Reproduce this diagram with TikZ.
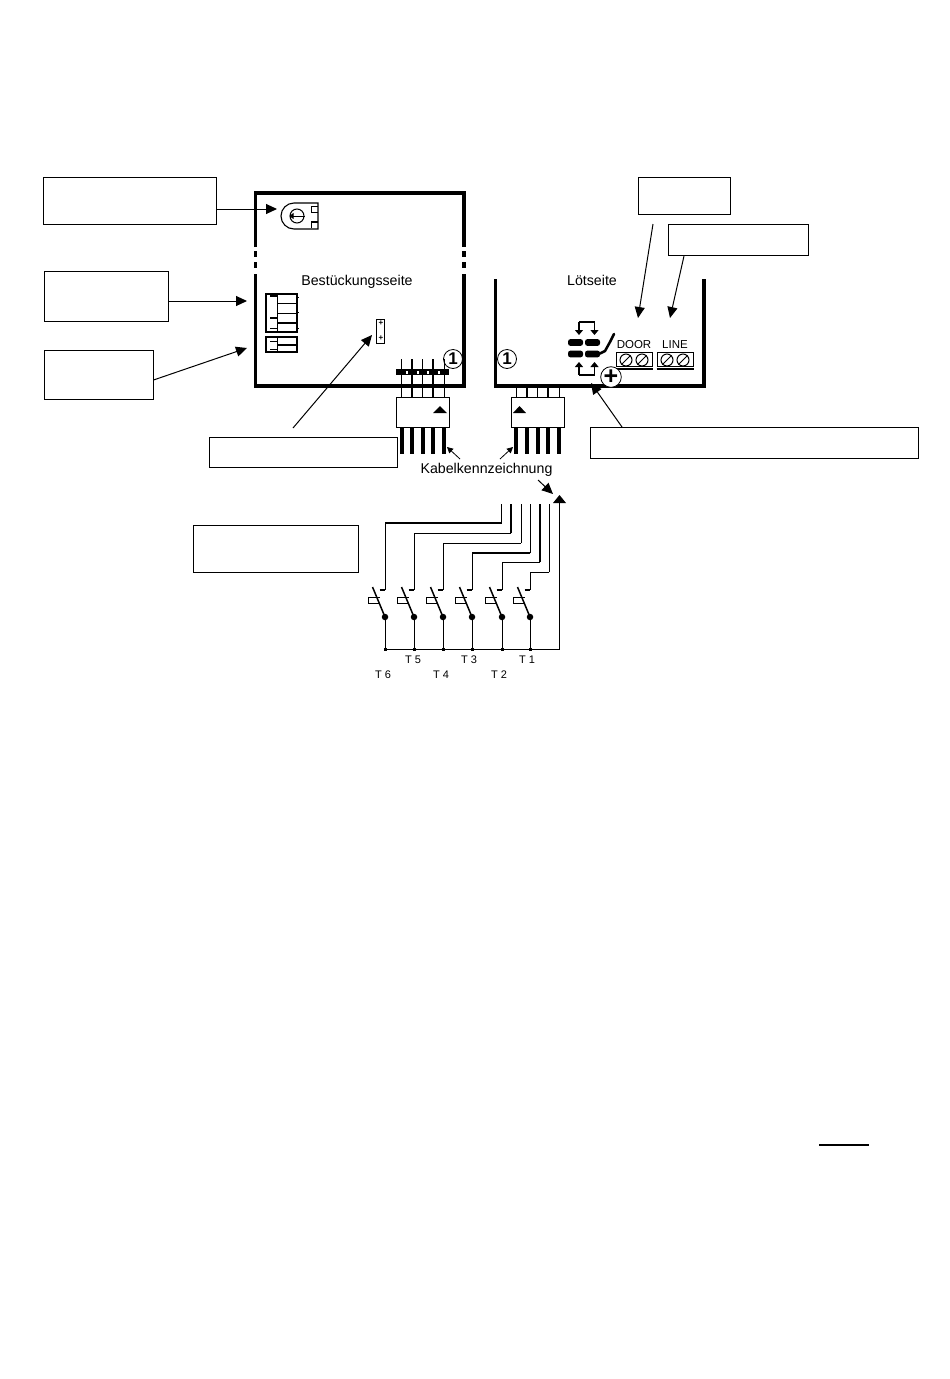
\documentclass[tikz,border=0pt]{standalone}
\usepackage{fontspec}
\setmainfont{Liberation Sans}
\usetikzlibrary{arrows.meta,
                calc}

\begin{document}
\begin{tikzpicture}[x=1pt,y=-1pt,
                    >={Triangle[length=11pt,width=10pt]}
                    ]
                % define styles
\tikzset{legendbox/.style={rectangle,
                       draw=black,
                       line width=1pt,
                       inner sep=0,
                       },
         board/.style={line width=3.8pt},
         pointer/.style={->,line width=1pt},
         tiny pointer/.style={-{Triangle[length=6pt,width=6pt]},line width=0.8pt},
         circled/.style={circle,
                       draw=black,
                       line width=0.8pt,
                       inner sep=0,
                       minimum size=19pt,
                       font=\bfseries\fontsize{17}{17}\selectfont,
                       },
         screw/.style={circle,
                       draw=black,
                       line width=1pt,
                       inner sep=0,
                       minimum size=12pt,
                       },
         contact/.style={circle,
                       fill=black,
                       inner sep=0,
                       minimum size=6.5pt,
                       },
         tap/.style={rectangle,
                       fill=black,
                       inner sep=0,
                       minimum size=3pt,
                       },
         title/.style={font=\fontsize{14.2}{15}\selectfont,inner sep=0},
         keyname/.style={font=\fontsize{11}{12}\selectfont,inner sep=0},
         thin wire/.style={line width=1pt},
         thick wire/.style={line width=2.1pt},
         lead/.style={line width=4pt},
}
\useasboundingbox (0,0) rectangle (950,1379);

% legend boxes
\node[legendbox,minimum width=173pt,minimum height=47pt] (potbox)    at (129.5,200.5) {};
\node[legendbox,minimum width=124pt,minimum height=50pt] (blockbox)  at (106,296)     {};
\node[legendbox,minimum width=109pt,minimum height=49pt] (smallbox)  at (98.5,374.5)  {};
\node[legendbox,minimum width=188pt,minimum height=30pt] (jumperbox) at (303,452)     {};
\node[legendbox,minimum width=165pt,minimum height=47pt] (keybox)    at (275.5,548.5) {};
\node[legendbox,minimum width=92pt,minimum height=37pt]  (doorbox)   at (684,195.5)   {};
\node[legendbox,minimum width=140pt,minimum height=31pt] (linebox)   at (738,239.5)   {};
\node[legendbox,minimum width=328pt,minimum height=31pt] (plusbox)   at (754,442.5)   {};

% boards
\draw[board] (255.5,247) -- (255.5,192.7) -- (464,192.7) -- (464,247);
\draw[board] (255.5,274) -- (255.5,385.7) -- (464,385.7) -- (464,274);
\foreach \x in {255.5,464}
    \foreach \y in {254,265}
        \fill (\x-1.9,\y-3) rectangle (\x+1.9,\y+3);
\draw[board] (495.5,279) -- (495.5,385.7) -- (704,385.7) -- (704,279);

\node[title] (side1) at (357,281.5) {Bestückungsseite};
\node[title] (side2) at (592,280) {Lötseite};

% trimmer
\draw[line width=1.1pt] (318,203) -- (294,203) arc[start angle=270,end angle=90,radius=13] -- (318,229) -- cycle;
\draw[line width=1pt] (318,206) -- (311,206) -- (311,212) -- (318,212);
\draw[line width=2pt] (318,221.5) -- (311,221.5);
\draw[line width=1pt] (311,221.5) -- (311,228);
\node[circle,draw,line width=1pt,inner sep=0,minimum size=14pt] (trim) at (297,216) {};
\draw[-{Triangle[length=4pt,width=6pt]},line width=1pt] (trim.east) -- (trim.west);

% terminal blocks
\draw[line width=1.4pt] (266,294) rectangle (297,332);
\draw[line width=1pt] (277,294) -- (277,332);
\foreach \y in {303,313}
    \draw[line width=1pt] (277,\y) -- (297,\y);
\draw[line width=2pt] (277,323) -- (297,323);
\foreach \y in {296,318}
    \draw[line width=1.8pt] (270,\y) -- (277,\y);
\draw[line width=1pt] (270,328) -- (277,328);
\foreach \y in {297,312,328}
    \draw[line width=1pt] (297,\y) -- (299,\y);
\draw[line width=1.4pt] (266,337) rectangle (297,352);
\draw[line width=1pt] (277,337) -- (277,352);
\draw[line width=2pt] (277,344.5) -- (297,344.5);
\foreach \y in {341,349.5}
    \draw[line width=1pt] (270,\y) -- (277,\y);

% jumper
\draw[line width=1pt] (376,319) rectangle (384,343);
\node[font=\bfseries\fontsize{8}{8}\selectfont,inner sep=0] (jumper1) at (381,323) {+};
\node[font=\bfseries\fontsize{8}{8}\selectfont,inner sep=0] (jumper2) at (381,338) {+};

% cable connectors
\node[legendbox,minimum width=53pt,minimum height=30pt] (plugl) at (422.5,412) {};
\node[legendbox,minimum width=53pt,minimum height=30pt] (plugr) at (537.5,412) {};
\fill (396,369) rectangle (449,375);
\foreach \x/\w in {401.5/thin wire,412/thick wire,422.7/thin wire,433.3/thick wire,444/thin wire}
    \draw[\w] (\x,359) -- (\x,397);
\foreach \x in {407,417.5,428,438.5}
    \fill[white] (\x-1,370.5) rectangle (\x+1,373.5);
\foreach \x/\w in {516/thin wire,527/thick wire,537.5/thin wire,548/thick wire,559/thin wire}
    \draw[\w] (\x,386) -- (\x,397);
\foreach \x in {401.5,412,422.7,433.3,444}
    \draw[lead] (\x,427) -- (\x,454);
\foreach \x in {516,527,537.5,548,558.5}
    \draw[lead] (\x,427) -- (\x,454);
\fill (433,413) -- (440,406) -- (447,413) -- cycle;
\fill (513,413) -- (519.5,406) -- (526,413) -- cycle;
\node[circled] (one1) at (453,359) {1};
\node[circled] (one2) at (507,359) {1};

% door and line terminals
\foreach \name/\x/\text in {door/634/DOOR,line/675/LINE}{
    \node[rectangle,draw,line width=1pt,inner sep=0,minimum width=36pt,minimum height=14pt] (\name) at (\x,359.5) {};
    \draw[line width=1.8pt] ($(\name.south west)+(0,2)$) -- ($(\name.south east)+(0,2)$);
    \node[keyname,font=\fontsize{11.5}{12}\selectfont] (\name text) at (\x,345) {\text};
    \foreach \i/\dx in {1/-8,2/8}{
        \node[screw] (\name\i) at (\x+\dx,360) {};
        \draw[line width=1pt] (\name\i.south west) -- (\name\i.north east);
    }
}

% solder bridges
\foreach \x/\y in {568/342.5,585/342.5,568/354,585/354}
    \fill[rounded corners=2.5pt] (\x,\y-3.4) rectangle (\x+15,\y+3.4);
\draw[line width=2.5pt,line cap=round] (600,353.5) -- (605,351) -- (610,342) -- (614,334);
\draw[-{Triangle[length=5pt,width=8pt]},line width=1.1pt] (579,322) -- (579,335);
\draw[-{Triangle[length=5pt,width=8pt]},line width=1.1pt] (579,322) -- (594.5,322) -- (594.5,335);
\draw[-{Triangle[length=5pt,width=8pt]},line width=1.1pt] (579,375) -- (579,362);
\draw[-{Triangle[length=5pt,width=8pt]},line width=1.1pt] (579,375) -- (594.5,375) -- (594.5,362);
\node[circled,fill=white,font=\bfseries\fontsize{25}{25}\selectfont] (plus) at (611,377) {+};

% pointers
\coordinate (tippot)    at (277,209);
\coordinate (tipblock)  at (247,301);
\coordinate (tipsmall)  at (247,348);
\coordinate (tipjumper) at (372,335);
\coordinate (tipdoor)   at (638,318);
\coordinate (tipline)   at (670,318);
\coordinate (tipplus)   at (591,383);
\draw[pointer] (potbox.east |- tippot) -- (tippot);
\draw[pointer] (blockbox.east |- tipblock) -- (tipblock);
\draw[pointer] (smallbox.east |- 0,380) -- (tipsmall);
\draw[pointer] (293,428) -- (tipjumper);
\draw[pointer] (653,224) -- (tipdoor);
\draw[pointer] (684,256) -- (tipline);
\draw[pointer] (622,427) -- (tipplus);

% cable marking
\node[title] (cable) at (486.5,469.5) {Kabelkennzeichnung};
\coordinate (tipl) at (447,447);
\coordinate (tipr) at (513,447);
\coordinate (tipm) at (553,494);
\draw[tiny pointer] (460,459) -- (tipl);
\draw[tiny pointer] (500,459) -- (tipr);
\draw[pointer] (538,480) -- (tipm);

% keys
\foreach \x/\top/\y/\v/\h in {385/501.7/523/thin wire/thick wire,
                              414/511.3/533/thick wire/thin wire,
                              443/521/543/thin wire/thin wire,
                              472/530.3/553/thin wire/thick wire,
                              502/540/562/thick wire/thin wire,
                              530/549.3/572/thin wire/thin wire}{
    \draw[\v] (\top,504) -- (\top,\y);
    \draw[\h] (\top,\y) -- (\x,\y);
    \draw[thin wire] (\x,\y) -- (\x,590);
    \draw[thick wire] (\x-5.5,590) -- (\x,590);
    \draw[line width=1.5pt] (\x-12.5,587) -- (\x,617);
    \node[contact] (sw\x) at (\x,617) {};
    \draw[thin wire] (sw\x) -- (\x,649);
    \draw[line width=1pt] (\x-5,597.5) -- (\x-17,597.5) -- (\x-17,603) -- (\x-5,603);
    \node[tap] (bus\x) at (\x,649) {};
}
\coordinate (return) at (559.3,649);
\draw[thin wire] (bus385) -- (return) -- (559.3,500);
\fill (553,503) -- (559.5,495) -- (566,503) -- cycle;

% key names
\foreach \x/\y/\text in {413/660/T 5,469/660/T 3,527/660/T 1,383/675/T 6,441/675/T 4,499/675/T 2}
    \node[keyname] at (\x,\y) {\text};

% rule
\draw[line width=2.4pt] (819,1144.7) -- (868.5,1144.7);
\end{tikzpicture}
\end{document}
